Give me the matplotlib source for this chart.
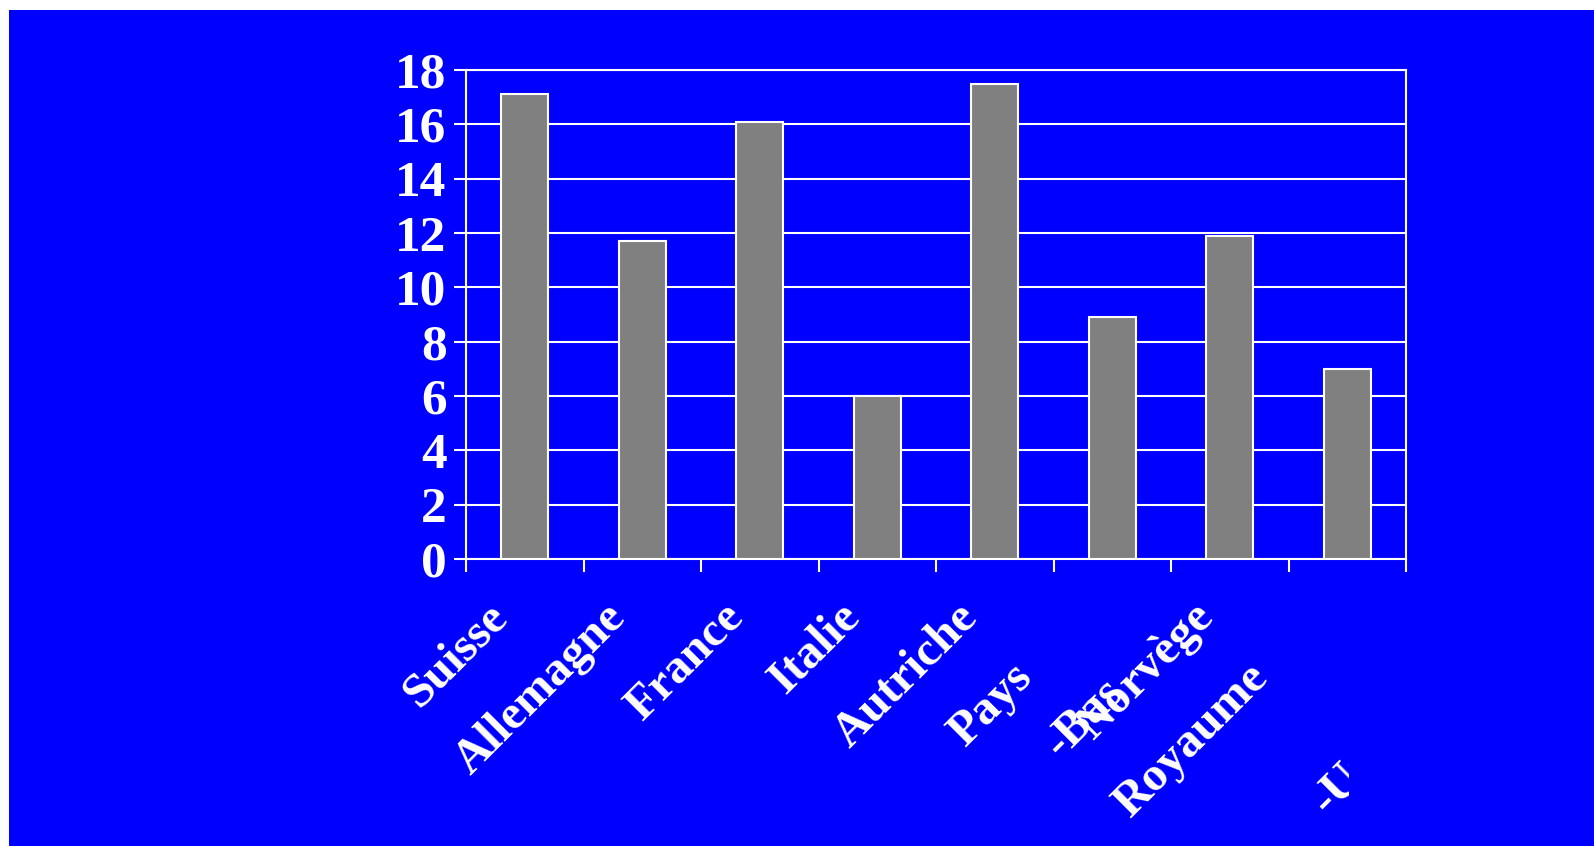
import matplotlib
matplotlib.use("Agg")
import matplotlib.pyplot as plt
from matplotlib.patches import Rectangle
from matplotlib.transforms import Bbox
import numpy as np

# data
pays = ["Suisse", "Allemagne", "France", "Italie", "Autriche", "Pays-Bas", "Norvège", "Royaume-Uni"]
valeurs = [17.1, 11.7, 16.1, 6.0, 17.5, 8.9, 11.9, 7.0]
y_ticks = [0, 2, 4, 6, 8, 10, 12, 14, 16, 18]

BLUE = "#0000ff"
FONT = "Liberation Serif"

fig = plt.figure(figsize=(15.94, 8.46), dpi=100)
fig.patch.set_facecolor("white")
# blue slide background, leaving a thin white margin top and left
fig.patches.append(Rectangle((9 / 1594, 0), 1 - 9 / 1594, (846 - 10) / 846,
                             transform=fig.transFigure, facecolor=BLUE,
                             edgecolor="none", zorder=-10))

ax = fig.add_axes([466 / 1594, (846 - 559) / 846, 940 / 1594, 489 / 846])
ax.set_facecolor(BLUE)

x = np.arange(len(pays))
ax.bar(x, valeurs, width=0.4, color="#808080", edgecolor="white", linewidth=1.5, zorder=3)

ax.set_xlim(-0.5, len(pays) - 0.5)
ax.set_ylim(0, 18)
ax.set_yticks(y_ticks)
ax.set_yticklabels([str(t) for t in y_ticks], fontfamily=FONT, fontweight="bold",
                   fontsize=37, color="white")
ax.set_xticks(np.arange(len(pays) + 1) - 0.5)
ax.set_xticklabels([])
ax.tick_params(axis="both", colors="white", direction="out", length=9, width=1.5)
ax.tick_params(axis="y", pad=5)
ax.yaxis.grid(True, color="white", linewidth=1.5, zorder=1)
ax.set_axisbelow(True)
for s in ax.spines.values():
    s.set_color("white")
    s.set_linewidth(1.5)

# category labels, rotated 45 degrees; compound names wrap at the hyphen
clip = Bbox([[0, 0], [1349, 846]])
for i, nom in enumerate(pays):
    if "-" in nom:
        a, b = nom.split("-", 1)
        if i == 7:
            suite = ("-" + b, "left", -20, -257)
        else:
            suite = ("-" + b, "left", -52, -200)
        lignes = [(a, "right", -78, -120), suite]
    else:
        lignes = [(nom, "right", -15, -60)]
    for txt, ha, dx, dy in lignes:
        t = ax.annotate(txt, xy=(i, 0), xycoords=("data", "axes fraction"),
                        xytext=(dx, dy), textcoords="offset pixels",
                        rotation=45, rotation_mode="anchor", ha=ha, va="baseline",
                        fontfamily=FONT, fontweight="bold", fontsize=35,
                        color="white", annotation_clip=False)
        t.set_clip_on(True)
        t.set_clip_box(clip)

fig.savefig("out.png", dpi=100, facecolor=fig.get_facecolor())
